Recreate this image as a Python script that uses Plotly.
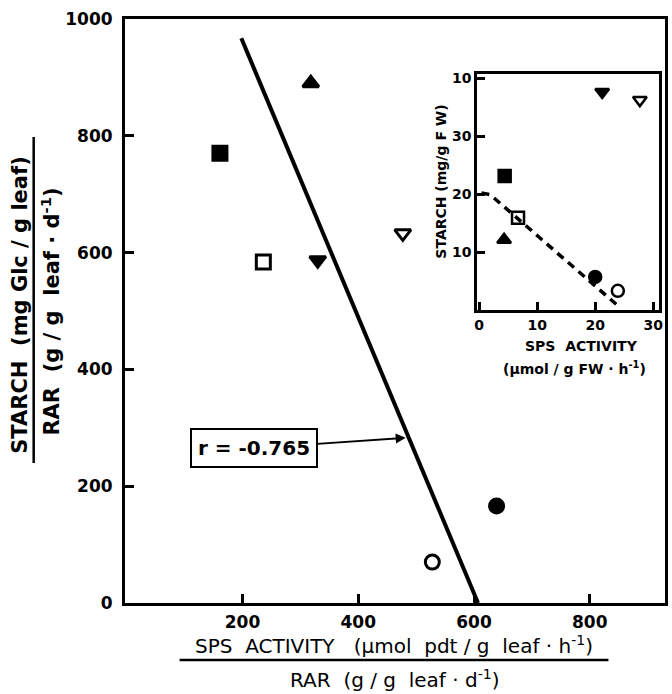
import plotly.graph_objects as go

# ---------------- data ----------------
treatments = ["filled_square", "open_square", "filled_tri_up", "filled_tri_down",
              "open_tri_down", "filled_circle", "open_circle"]
symbols = ["square", "square-open", "triangle-up", "triangle-down",
           "triangle-down-open", "circle", "circle-open"]

# main panel: SPS activity / RAR  vs  starch / RAR
main_x = [161, 236, 318, 330, 477, 639, 528]
main_y = [770, 584, 890, 587, 633, 166, 70]

# regression line (r = -0.765)
reg_x = [198, 607]
reg_y = [967, 0]

# inset: SPS activity vs starch
inset_x = [4.4, 6.7, 4.3, 21.2, 27.7, 20.0, 23.9]
inset_y = [23.1, 15.9, 12.1, 37.6, 36.2, 5.7, 3.3]

inset_line_x = [0.4, 1.9, 24.3]
inset_line_y = [20.2, 19.9, 0.4]

main_xticks = [200, 400, 600, 800]
main_yticks = [0, 200, 400, 600, 800, 1000]
inset_xticks = [0, 10, 20, 30]
inset_yticks = [10, 20, 30, 40]
inset_yticktext = ["10", "20", "30", "10"]

r_text = "r = -0.765"

# ---------------- figure ----------------
TICKFONT = dict(family="DejaVu Sans", size=17, color="black", weight="bold")
INSETTICK = dict(family="DejaVu Sans", size=14, color="black", weight="bold")

fig = go.Figure()

fig.add_trace(go.Scatter(x=reg_x, y=reg_y, mode="lines",
                         line=dict(color="black", width=4),
                         xaxis="x", yaxis="y", showlegend=False, hoverinfo="skip"))

fig.add_trace(go.Scatter(x=main_x, y=main_y, mode="markers",
                         marker=dict(symbol=symbols, size=14, color="black",
                                     line=dict(color="black", width=3)),
                         xaxis="x", yaxis="y", showlegend=False))

fig.add_trace(go.Scatter(x=inset_line_x, y=inset_line_y, mode="lines",
                         line=dict(color="black", width=3.5, dash="8px,6px"),
                         xaxis="x2", yaxis="y2", showlegend=False, hoverinfo="skip"))

fig.add_trace(go.Scatter(x=inset_x, y=inset_y, mode="markers",
                         marker=dict(symbol=symbols, size=12, color="black",
                                     line=dict(color="black", width=2.5)),
                         xaxis="x2", yaxis="y2", showlegend=False))

L, R, T, B = 125, 3, 19, 91
W, H = 672, 694
pw, ph = W - L - R, H - T - B


def px(xp):
    return (xp - L) / pw


def py(yp):
    return (H - B - yp) / ph


fig.update_layout(
    width=W, height=H,
    margin=dict(l=L, r=R, t=T, b=B),
    paper_bgcolor="white", plot_bgcolor="white",
    xaxis=dict(range=[-3, 930], tickvals=main_xticks, ticks="inside", ticklen=9,
               tickwidth=2.5, tickcolor="black", showline=True, linewidth=3,
               linecolor="black", mirror=True, showgrid=False, zeroline=False,
               tickfont=TICKFONT, ticklabelstandoff=2, domain=[0, 1]),
    yaxis=dict(range=[0, 1000], tickvals=main_yticks, ticks="inside", ticklen=9,
               tickwidth=2.5, tickcolor="black", showline=True, linewidth=3,
               linecolor="black", mirror=True, showgrid=False, zeroline=False,
               tickfont=TICKFONT, ticklabelstandoff=6, domain=[0, 1]),
    xaxis2=dict(range=[-0.3, 31.0], tickvals=inset_xticks, ticks="inside", ticklen=8,
                tickwidth=2.5, tickcolor="black", showline=True, linewidth=3,
                linecolor="black", mirror=True, showgrid=False, zeroline=False,
                tickfont=INSETTICK, anchor="y2",
                domain=[px(480), px(663)]),
    yaxis2=dict(range=[0, 40.7], tickvals=inset_yticks, ticktext=inset_yticktext,
                ticks="inside", ticklen=8,
                tickwidth=2.5, tickcolor="black", showline=True, linewidth=3,
                linecolor="black", mirror=True, showgrid=False, zeroline=False,
                tickfont=INSETTICK, anchor="x2",
                domain=[py(310), py(74)]),
)

# inset white background
fig.add_shape(type="rect", xref="paper", yref="paper",
              x0=px(480), x1=px(663), y0=py(310), y1=py(74),
              fillcolor="white", line=dict(width=0), layer="below")

YTFONT = dict(family="DejaVu Sans", size=21, color="black")

# y-axis fraction title
fig.add_annotation(xref="paper", yref="paper", x=px(19), y=py(305),
                   text="<b>STARCH  (mg Glc / g leaf)</b>", textangle=-90,
                   showarrow=False, font=YTFONT, xanchor="center", yanchor="middle")
fig.add_shape(type="line", xref="paper", yref="paper",
              x0=px(33), x1=px(33), y0=py(463), y1=py(137),
              line=dict(color="black", width=2.5))
fig.add_annotation(xref="paper", yref="paper", x=px(50), y=py(312),
                   text="<b>RAR  (g / g  leaf · d<sup>-1</sup>)</b>", textangle=-90,
                   showarrow=False, font=YTFONT, xanchor="center", yanchor="middle")

# x-axis fraction title
XTFONT = dict(family="DejaVu Sans", size=20, color="black")
fig.add_annotation(xref="paper", yref="paper", x=px(396), y=py(645),
                   text="SPS  ACTIVITY   (μmol  pdt / g  leaf · h<sup>-1</sup>)",
                   showarrow=False, font=XTFONT, xanchor="center", yanchor="middle")
fig.add_shape(type="line", xref="paper", yref="paper",
              x0=px(180), x1=px(612), y0=py(660), y1=py(660),
              line=dict(color="black", width=2.5))
fig.add_annotation(xref="paper", yref="paper", x=px(396), y=py(679),
                   text="RAR  (g / g  leaf · d<sup>-1</sup>)",
                   showarrow=False, font=XTFONT, xanchor="center", yanchor="middle")

# inset titles
INSETTITLE = dict(family="DejaVu Sans", size=14, color="black")
fig.add_annotation(xref="paper", yref="paper", x=px(443), y=py(182),
                   text="<b>STARCH (mg/g F W)</b>", textangle=-90,
                   showarrow=False, font=INSETTITLE, xanchor="center", yanchor="middle")
fig.add_annotation(xref="paper", yref="paper", x=px(585), y=py(346),
                   text="<b>SPS  ACTIVITY</b>",
                   showarrow=False, font=INSETTITLE, xanchor="center", yanchor="middle")
fig.add_annotation(xref="paper", yref="paper", x=px(578), y=py(368),
                   text="<b>(μmol / g FW · h<sup>-1</sup>)</b>",
                   showarrow=False, font=INSETTITLE, xanchor="center", yanchor="middle")

# r label with arrow to regression line
fig.add_annotation(xref="x", yref="y", x=482, y=283, axref="x", ayref="y",
                   ax=220, ay=265, text="<b>" + r_text + "</b>",
                   showarrow=True, arrowhead=2, arrowsize=1, arrowwidth=2,
                   arrowcolor="black", bordercolor="black", borderwidth=2,
                   borderpad=6, bgcolor="white",
                   font=dict(family="DejaVu Sans", size=20, color="black"))

fig.write_html("out.html")
